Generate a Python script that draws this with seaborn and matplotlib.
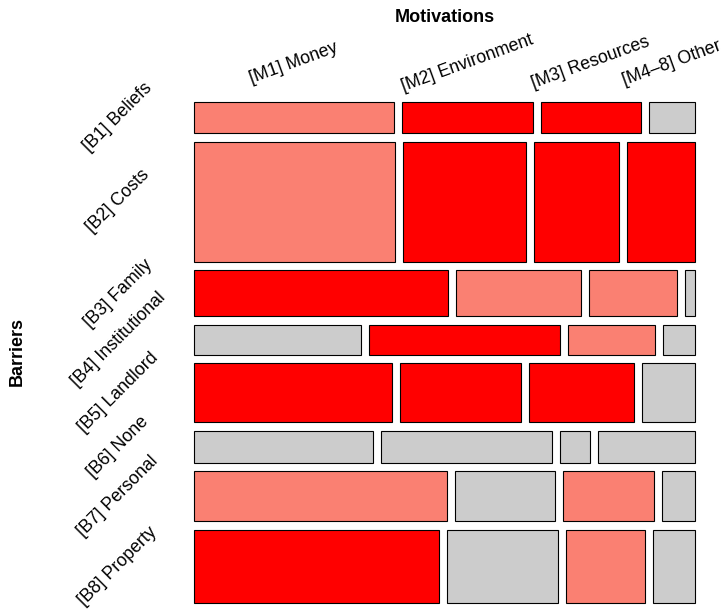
import matplotlib
matplotlib.use("Agg")
import matplotlib.pyplot as plt
from matplotlib import transforms
import numpy as np
import pandas as pd
import seaborn as sns

# Categories
barriers = ["[B1] Beliefs", "[B2] Costs", "[B3] Family", "[B4] Institutional",
            "[B5] Landlord", "[B6] None", "[B7] Personal", "[B8] Property"]
motivations = ["[M1] Money", "[M2] Environment", "[M3] Resources", "[M4\u20138] Other"]

# Counts per barrier for each motivation
money = [26, 101, 49, 21, 49, 24, 53, 75]
environment = [17, 62, 24, 24, 30, 23, 21, 34]
resources = [13, 43, 17, 11, 26, 4, 19, 24]
other = [6, 34, 2, 4, 13, 13, 7, 13]

# Shading level of each cell: 2 = strong, 1 = moderate, 0 = none
shade_money = [1, 1, 2, 0, 2, 0, 1, 2]
shade_environment = [2, 2, 1, 2, 2, 0, 0, 0]
shade_resources = [2, 2, 1, 1, 2, 0, 1, 1]
shade_other = [0, 2, 0, 0, 0, 0, 0, 0]

shade_colors = {0: "#cccccc", 1: "#fa8072", 2: "#ff0000"}

counts = pd.DataFrame({motivations[0]: money, motivations[1]: environment,
                       motivations[2]: resources, motivations[3]: other},
                      index=barriers)
shades = pd.DataFrame({motivations[0]: shade_money, motivations[1]: shade_environment,
                       motivations[2]: shade_resources, motivations[3]: shade_other},
                      index=barriers)

sns.set_theme(style="white")
plt.rcParams["font.family"] = ["Liberation Sans", "DejaVu Sans"]
plt.rcParams["text.color"] = "black"

fig = plt.figure(figsize=(7.23, 6.11), dpi=100)
ax = fig.add_axes([194 / 723, 1 - 603 / 611, (695 - 194) / 723, (603 - 102) / 611])

# Mosaic geometry: rows split by barrier share, cells by motivation share within row
row_tot = counts.sum(axis=1)
row_h = (row_tot / row_tot.sum()).to_numpy()
gap_y = 0.0193
gap_x = 0.0167
row_top = np.concatenate([[0], np.cumsum(row_h)[:-1]]) + gap_y * np.arange(len(barriers))
row_mid = row_top + row_h / 2

props = counts.div(row_tot, axis=0)
lefts = props.cumsum(axis=1).shift(axis=1, fill_value=0.0)
lefts = lefts + gap_x * np.arange(len(motivations))

for j, m in enumerate(motivations):
    bars = ax.barh(row_mid, props[m].to_numpy(), left=lefts[m].to_numpy(), height=row_h,
                   color=[shade_colors[s] for s in shades[m]],
                   edgecolor="black", linewidth=0.8)
    for patch in bars:
        patch.set_clip_on(False)

ax.set_xlim(0, 1 + gap_x * (len(motivations) - 1))
ax.set_ylim(row_top[-1] + row_h[-1], 0)
ax.axis("off")

# Column labels centred over the first row's cells
top_tr = transforms.blended_transform_factory(ax.transData, fig.transFigure)
first = props.iloc[0]
for m in motivations:
    cx = lefts[m].iloc[0] + first[m] / 2
    ax.text(cx, 1 - 63 / 611, m, transform=top_tr, rotation=20,
            ha="center", va="center", fontsize=12.8, clip_on=False)

# Row labels
left_tr = transforms.blended_transform_factory(fig.transFigure, ax.transData)
for b, y in zip(barriers, row_mid):
    ax.text(118 / 723, y, b, transform=left_tr, rotation=45,
            ha="center", va="center", fontsize=12.8, clip_on=False)

fig.text(444.5 / 723, 1 - 17 / 611, "Motivations", ha="center", va="center",
         fontsize=13, fontweight="bold")
fig.text(17 / 723, 1 - 352 / 611, "Barriers", ha="center", va="center",
         rotation=90, fontsize=13, fontweight="bold")

fig.savefig("out.png", dpi=100, facecolor="white")
